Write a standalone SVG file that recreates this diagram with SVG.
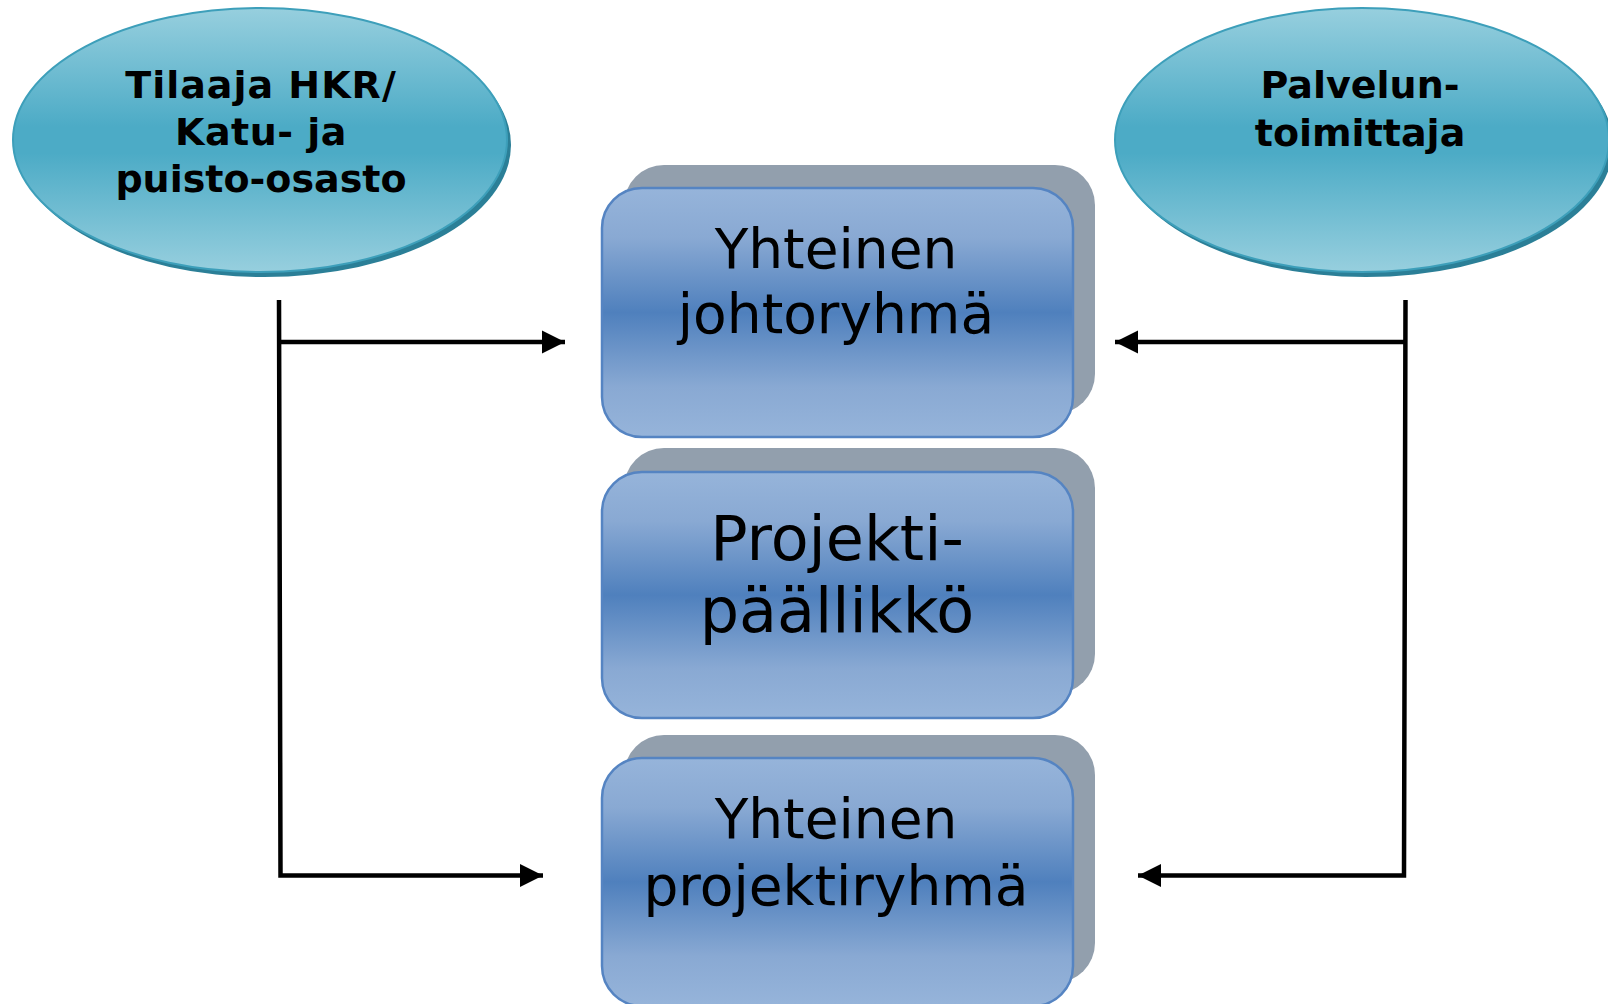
<svg xmlns="http://www.w3.org/2000/svg" width="1608" height="1004" viewBox="0 0 1608 1004">
<defs>
<linearGradient id="gEll" x1="0" y1="0" x2="0" y2="1">
<stop offset="0" stop-color="#97cfde"/>
<stop offset="0.45" stop-color="#4cabc6"/>
<stop offset="0.55" stop-color="#4cabc6"/>
<stop offset="1" stop-color="#97cfde"/>
</linearGradient>
<linearGradient id="gBox" x1="0" y1="0" x2="0" y2="1">
<stop offset="0" stop-color="#96b4da"/>
<stop offset="0.2" stop-color="#89a9d3"/>
<stop offset="0.5" stop-color="#4f80bd"/>
<stop offset="0.8" stop-color="#89a9d3"/>
<stop offset="1" stop-color="#96b4da"/>
</linearGradient>
<marker id="arr" viewBox="0 0 10 10" refX="10" refY="5" markerWidth="5.2" markerHeight="5.6" markerUnits="strokeWidth" orient="auto">
<path d="M0,0 L10,5 L0,10 Z" fill="#000"/>
</marker>
<style>
.ellsh{fill:#2b7f97}
.ell{fill:url(#gEll);stroke:#3d9fba;stroke-width:2}
.boxsh{fill:#929fad}
.box{fill:url(#gBox);stroke:#5584c2;stroke-width:2.5}
.et{font-family:"DejaVu Sans",Verdana,sans-serif;font-weight:bold;font-size:38px;fill:#000;text-anchor:middle}
.bt{font-family:"DejaVu Sans",Verdana,sans-serif;font-size:55px;fill:#000;text-anchor:middle}
.bt2{font-family:"DejaVu Sans",Verdana,sans-serif;font-size:62px;fill:#000;text-anchor:middle}
.con{fill:none;stroke:#000;stroke-width:4.5}
</style>
</defs>
<rect width="1608" height="1004" fill="#fff"/>

<g id="tilaaja">
<ellipse class="ellsh" cx="264" cy="145" rx="247" ry="132"/>
<ellipse class="ell" cx="260" cy="140" rx="247" ry="132"/>
<text class="et" x="261" y="98" letter-spacing="1">Tilaaja HKR/</text>
<text class="et" x="261" y="145" letter-spacing="0.5">Katu- ja</text>
<text class="et" x="261" y="192">puisto-osasto</text>
</g>

<g id="palveluntoimittaja">
<ellipse class="ellsh" cx="1366" cy="145" rx="247" ry="132"/>
<ellipse class="ell" cx="1362" cy="140" rx="247" ry="132"/>
<text class="et" x="1360" y="98">Palvelun-</text>
<text class="et" x="1360" y="146">toimittaja</text>
</g>

<g id="johtoryhma">
<rect class="boxsh" x="624" y="165" width="471" height="249" rx="40"/>
<rect class="box" x="602" y="188" width="471" height="249" rx="40"/>
<text class="bt" x="836" y="268">Yhteinen</text>
<text class="bt" x="836" y="333">johtoryhmä</text>
</g>

<g id="projektipaallikko">
<rect class="boxsh" x="624" y="448" width="471" height="246" rx="40"/>
<rect class="box" x="602" y="472" width="471" height="246" rx="40"/>
<text class="bt2" x="837" y="560">Projekti-</text>
<text class="bt2" x="837" y="632">päällikkö</text>
</g>

<g id="projektiryhma">
<rect class="boxsh" x="624" y="735" width="471" height="248" rx="40"/>
<rect class="box" x="602" y="758" width="471" height="248" rx="40"/>
<text class="bt" x="836" y="838">Yhteinen</text>
<text class="bt" x="836" y="905">projektiryhmä</text>
</g>

<g id="connectors">
<path class="con" d="M279,300 L280.5,875.5 L543,875.5" marker-end="url(#arr)"/>
<path class="con" d="M279.5,342 L565,342" marker-end="url(#arr)"/>
<path class="con" d="M1405.5,300 L1404,875.5 L1138,875.5" marker-end="url(#arr)"/>
<path class="con" d="M1405,342 L1115,342" marker-end="url(#arr)"/>
</g>
</svg>
